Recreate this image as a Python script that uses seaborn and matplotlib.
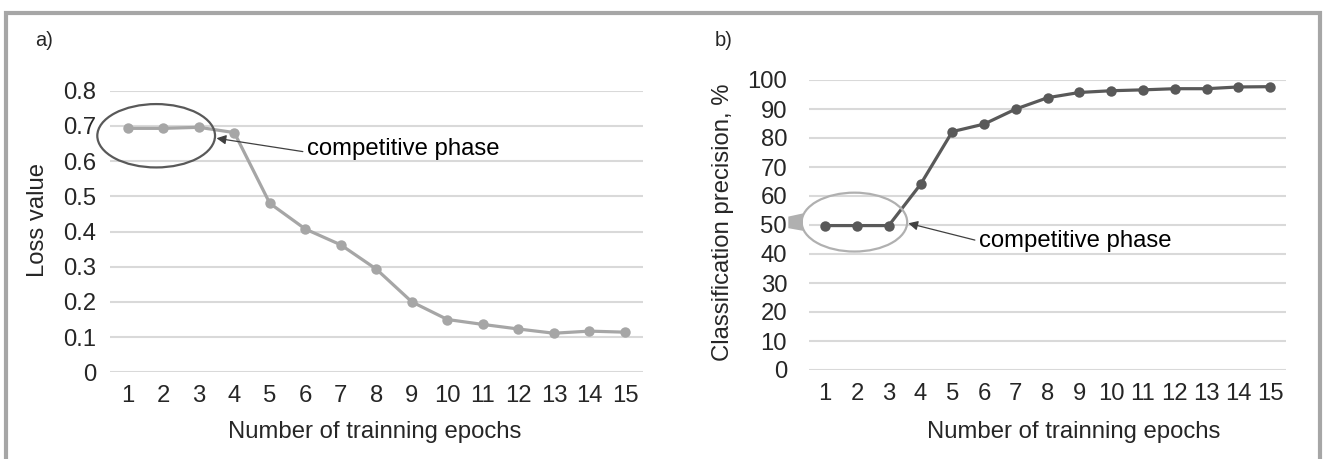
import matplotlib
matplotlib.use("Agg")
import matplotlib.pyplot as plt
from matplotlib.patches import Ellipse, Polygon, Rectangle
import pandas as pd
import seaborn as sns

# data
epochs = list(range(1, 16))
loss_values = [0.693, 0.693, 0.696, 0.681, 0.480, 0.407, 0.362, 0.293,
               0.200, 0.150, 0.136, 0.123, 0.111, 0.117, 0.114]
precision_values = [49.8, 49.8, 49.8, 64.0, 82.2, 84.8, 90.0, 93.9,
                    95.7, 96.3, 96.6, 97.0, 97.0, 97.6, 97.7]
loss_ticks = [0, 0.1, 0.2, 0.3, 0.4, 0.5, 0.6, 0.7, 0.8]
loss_tick_labels = ["0", "0.1", "0.2", "0.3", "0.4", "0.5", "0.6", "0.7", "0.8"]
precision_ticks = list(range(0, 101, 10))

df = pd.DataFrame({"epoch": epochs, "loss": loss_values, "precision": precision_values})

sns.set_theme(style="white")
plt.rcParams['font.family'] = ['Liberation Sans', 'DejaVu Sans']

LIGHT = "#a6a6a6"
DARK = "#595959"
GRID = "#d9d9d9"
FS = 17.2

fig = plt.figure(figsize=(13.26, 4.59), dpi=100)
ax1 = fig.add_axes([110 / 1326, 1 - 372.3 / 459, 532.7 / 1326, 281.6 / 459])
ax2 = fig.add_axes([809.3 / 1326, 1 - 370 / 459, 476.7 / 1326, 290 / 459])

# outer grey frame
fig.add_artist(Rectangle((6 / 1326, -0.2), 1314 / 1326, 1.2 - 13 / 459,
                         transform=fig.transFigure, fill=False,
                         edgecolor=LIGHT, linewidth=3))

# a) loss
sns.lineplot(data=df, x="epoch", y="loss", ax=ax1, color=LIGHT, linewidth=2.3,
             marker="o", markersize=7.5, markeredgewidth=0)
ax1.set_xlim(0.5, 15.5)
ax1.set_ylim(0, 0.8)
ax1.set_yticks(loss_ticks)
ax1.set_yticklabels(loss_tick_labels)
ax1.tick_params(axis="y", pad=10, length=0, labelsize=FS)
ax1.set_ylabel("Loss value", fontsize=FS)
ax1.yaxis.label.set_verticalalignment("center")
ax1.yaxis.set_label_coords(-0.135, 0.54)
ax1.set_xlabel("Number of trainning epochs", fontsize=FS)
ax1.xaxis.label.set_verticalalignment("center")
ax1.xaxis.set_label_coords(0.496, -0.212)

ax1.add_patch(Ellipse((1.80, 0.672), 3.315, 0.18, fill=False,
                      edgecolor=DARK, linewidth=1.6, zorder=5, clip_on=False))
ax1.annotate("", xy=(3.50, 0.665), xytext=(5.93, 0.627),
             arrowprops=dict(arrowstyle="-|>", color="#404040", lw=0.9,
                             mutation_scale=14, shrinkA=0, shrinkB=0))
ax1.text(6.04, 0.617, "competitive phase", fontsize=FS, va="baseline", ha="left",
         color="black")

# b) precision
sns.lineplot(data=df, x="epoch", y="precision", ax=ax2, color=DARK, linewidth=2.3,
             marker="o", markersize=7.5, markeredgewidth=0)
ax2.set_xlim(0.5, 15.5)
ax2.set_ylim(0, 100)
ax2.set_yticks(precision_ticks)
ax2.tick_params(axis="y", pad=16, length=0, labelsize=FS)
ax2.set_ylabel("Classification precision, %", fontsize=FS)
ax2.yaxis.label.set_verticalalignment("center")
ax2.yaxis.set_label_coords(-0.182, 0.509)
ax2.set_xlabel("Number of trainning epochs", fontsize=FS)
ax2.xaxis.label.set_verticalalignment("center")
ax2.xaxis.set_label_coords(0.555, -0.214)

ax2.add_patch(Ellipse((1.92, 51.0), 3.32, 20.3, fill=False,
                      edgecolor="#b0b0b0", linewidth=1.6, zorder=5, clip_on=False))
ax2.add_patch(Polygon([(0.30, 54.0), (-0.16, 52.9), (-0.16, 48.9), (0.30, 48.0)],
                      closed=True, facecolor="#b0b0b0", edgecolor="none",
                      clip_on=False, zorder=5))
ax2.annotate("", xy=(3.615, 50.6), xytext=(5.71, 44.8),
             arrowprops=dict(arrowstyle="-|>", color="#404040", lw=0.9,
                             mutation_scale=14, shrinkA=0, shrinkB=0))
ax2.text(5.83, 42.5, "competitive phase", fontsize=FS, va="baseline", ha="left",
         color="black")

for ax in (ax1, ax2):
    ax.set_xticks(epochs)
    ax.tick_params(axis="x", pad=9, length=0, labelsize=FS)
    ax.grid(axis="y", color=GRID, linewidth=1.5)
    ax.grid(axis="x", visible=False)
    ax.set_axisbelow(True)
    for s in ax.spines.values():
        s.set_visible(False)
    ax.set_facecolor("none")

fig.text(44 / 1326, 1 - 41 / 459, "a)", fontsize=14.5, ha="center", va="center")
fig.text(724 / 1326, 1 - 40 / 459, "b)", fontsize=14.5, ha="center", va="center")

fig.savefig("out.png", dpi=100, facecolor="white")
